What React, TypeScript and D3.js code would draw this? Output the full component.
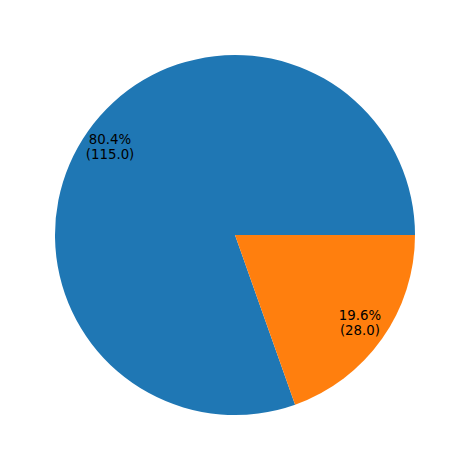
import { useEffect, useRef } from 'react'
import * as d3 from 'd3'

const labels = ['A', 'B']
const values = [115, 28]
const colors = ['#1f77b4', '#ff7f0e']

const WIDTH = 469
const HEIGHT = 470
const CX = 235
const CY = 235
const RADIUS = 180
const PCT_DISTANCE = 0.85

interface SliceDatum {
  label: string
  value: number
  color: string
}

export default function App() {
  const svgRef = useRef<SVGSVGElement | null>(null)

  useEffect(() => {
    if (!svgRef.current) {
      return
    }
    const svg = d3.select(svgRef.current)
    svg.selectAll('*').remove()

    const data: SliceDatum[] = labels.map((label, i) => ({
      label,
      value: values[i],
      color: colors[i],
    }))
    const total = d3.sum(values)

    // matplotlib: start at 3 o'clock, counterclockwise
    const pie = d3
      .pie<SliceDatum>()
      .value((d) => d.value)
      .sort(null)
      .startAngle(Math.PI / 2)
      .endAngle(Math.PI / 2 - 2 * Math.PI)

    const arc = d3.arc<d3.PieArcDatum<SliceDatum>>().innerRadius(0).outerRadius(RADIUS)
    const labelArc = d3
      .arc<d3.PieArcDatum<SliceDatum>>()
      .innerRadius(RADIUS * PCT_DISTANCE)
      .outerRadius(RADIUS * PCT_DISTANCE)

    const root = svg.append('g').attr('transform', `translate(${CX}, ${CY})`)
    const arcs = pie(data)

    root
      .selectAll('path.slice')
      .data(arcs)
      .enter()
      .append('path')
      .attr('class', 'slice')
      .attr('d', (d) => arc(d) ?? '')
      .attr('fill', (d) => d.data.color)

    const text = root
      .selectAll('text.pct')
      .data(arcs)
      .enter()
      .append('text')
      .attr('class', 'pct')
      .attr('text-anchor', 'middle')
      .attr('font-family', 'DejaVu Sans, sans-serif')
      .attr('font-size', 13.33)
      .attr('fill', '#000')
      .attr('transform', (d) => {
        const [x, y] = labelArc.centroid(d)
        return `translate(${x}, ${y})`
      })

    text
      .append('tspan')
      .attr('x', 0)
      .attr('y', -3)
      .text((d) => `${((d.data.value / total) * 100).toFixed(1)}%`)

    text
      .append('tspan')
      .attr('x', 0)
      .attr('y', 12)
      .text((d) => `(${d.data.value.toFixed(1)})`)
  }, [])

  return (
    <svg
      ref={svgRef}
      width={WIDTH}
      height={HEIGHT}
      style={{ position: 'absolute', left: 0, top: 0, background: '#fff' }}
    />
  )
}
